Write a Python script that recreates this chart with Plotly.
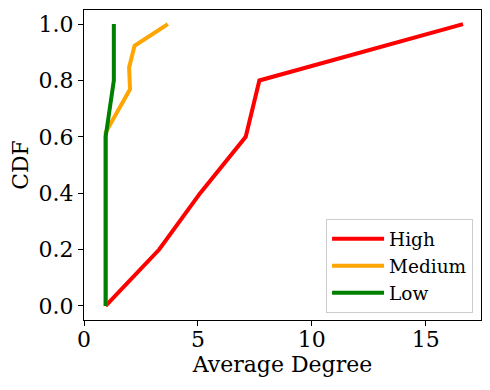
import plotly.graph_objects as go

# CDF de grado promedio por grupo
high_x = [0.95, 3.3, 5.1, 7.1, 7.7, 16.64]
high_y = [0.0, 0.2, 0.4, 0.6, 0.8, 1.0]

medium_x = [0.95, 0.95, 2.02, 1.98, 2.22, 3.68]
medium_y = [0.0, 0.615, 0.769, 0.846, 0.923, 1.0]

low_x = [0.95, 0.95, 1.31, 1.31]
low_y = [0.0, 0.6, 0.8, 1.0]

x_ticks = [0, 5, 10, 15]
y_ticks = [0.0, 0.2, 0.4, 0.6, 0.8, 1.0]

font = "DejaVu Serif"

fig = go.Figure()
fig.add_trace(go.Scatter(x=high_x, y=high_y, mode='lines', name='High',
                         line=dict(color='red', width=4)))
fig.add_trace(go.Scatter(x=medium_x, y=medium_y, mode='lines', name='Medium',
                         line=dict(color='orange', width=4)))
fig.add_trace(go.Scatter(x=low_x, y=low_y, mode='lines', name='Low',
                         line=dict(color='green', width=4)))

axis_style = dict(showline=True, linecolor='black', linewidth=1, mirror=True,
                  ticks='outside', ticklen=5, tickwidth=1, tickcolor='black',
                  showgrid=False, zeroline=False, automargin=False,
                  tickfont=dict(family=font, size=22, color='black'))

fig.update_xaxes(range=[0, 17.43], tickvals=x_ticks,
                 ticktext=[str(v) for v in x_ticks],
                 ticklabelstandoff=-5,
                 title=dict(text='Average Degree', font=dict(family=font, size=22, color='black'),
                            standoff=1),
                 **axis_style)
fig.update_yaxes(range=[-0.05, 1.05], tickvals=y_ticks,
                 ticktext=['%.1f' % v for v in y_ticks],
                 title=dict(text='CDF', font=dict(family=font, size=22, color='black'),
                            standoff=8),
                 **axis_style)

# la pagina tiene 8px de margen en el body, se compensa aqui
fig.update_layout(
    width=482, height=382,
    margin=dict(l=76, r=9, t=2, b=70),
    plot_bgcolor='white', paper_bgcolor='white',
    font=dict(family=font, color='black'),
    legend=dict(x=0.98, y=0.022, xanchor='right', yanchor='bottom',
                bgcolor='white', bordercolor='#cccccc', borderwidth=1,
                font=dict(family=font, size=18.5, color='black'),
                itemwidth=52, entrywidth=101, tracegroupgap=0),
)

fig.write_html("out.html")
